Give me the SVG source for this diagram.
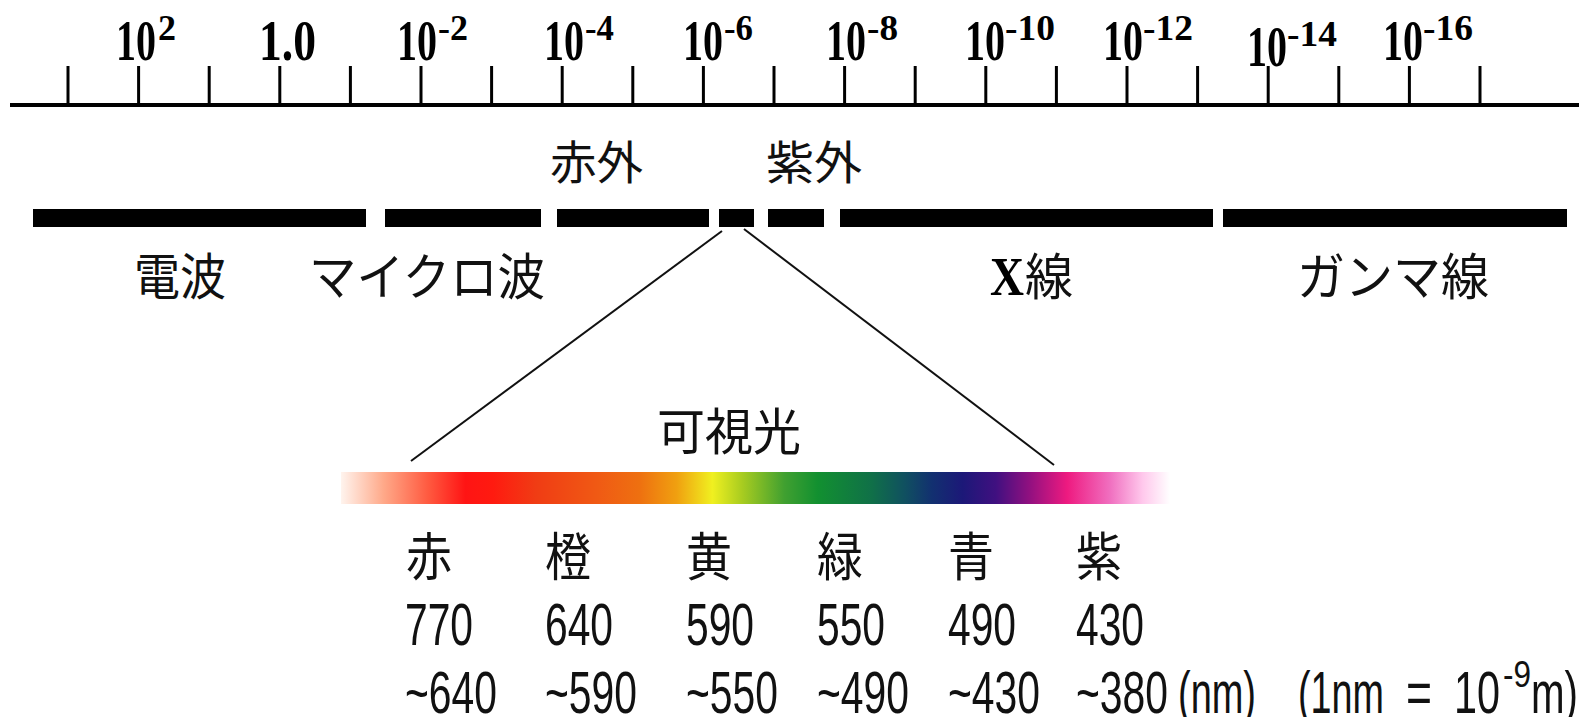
<svg xmlns="http://www.w3.org/2000/svg" width="1581" height="717" viewBox="0 0 1581 717">
<style>
.ax{font-family:"Liberation Serif","Times New Roman",serif;fill:#000;font-weight:bold}
.jp{font-family:"Noto Sans CJK JP","Noto Sans CJK SC",sans-serif;fill:#111}
.num{font-family:"Liberation Sans",Arial,sans-serif;fill:#111}
.tick{stroke:#000;stroke-width:3}
.bar{fill:#000}
.conn{stroke:#111;stroke-width:2;fill:none}
</style>
<defs>
<linearGradient id="spec" x1="0" y1="0" x2="1" y2="0">
<stop offset="0" stop-color="#fff4ee"/>
<stop offset="0.052" stop-color="#ffa888"/>
<stop offset="0.105" stop-color="#ff5a40"/>
<stop offset="0.15" stop-color="#ff1414"/>
<stop offset="0.183" stop-color="#ff1a10"/>
<stop offset="0.235" stop-color="#f03c14"/>
<stop offset="0.31" stop-color="#f05a14"/>
<stop offset="0.36" stop-color="#ee7010"/>
<stop offset="0.405" stop-color="#f0a010"/>
<stop offset="0.448" stop-color="#f0f020"/>
<stop offset="0.484" stop-color="#a8cc20"/>
<stop offset="0.535" stop-color="#40a030"/>
<stop offset="0.575" stop-color="#129030"/>
<stop offset="0.64" stop-color="#107048"/>
<stop offset="0.68" stop-color="#105060"/>
<stop offset="0.713" stop-color="#123070"/>
<stop offset="0.75" stop-color="#1c1878"/>
<stop offset="0.79" stop-color="#401080"/>
<stop offset="0.83" stop-color="#901080"/>
<stop offset="0.876" stop-color="#ee1a80"/>
<stop offset="0.928" stop-color="#f070c0"/>
<stop offset="0.967" stop-color="#ffc8ec"/>
<stop offset="1" stop-color="#ffffff"/>
</linearGradient>
</defs>
<rect width="1581" height="717" fill="#fff"/>

<g id="axis">
<rect x="10" y="103" width="1569" height="4" fill="#000"/>
<g class="tick">
<line x1="68" y1="66" x2="68" y2="104"/>
<line x1="138.6" y1="66" x2="138.6" y2="104"/>
<line x1="209.2" y1="66" x2="209.2" y2="104"/>
<line x1="279.8" y1="66" x2="279.8" y2="104"/>
<line x1="350.4" y1="66" x2="350.4" y2="104"/>
<line x1="421" y1="66" x2="421" y2="104"/>
<line x1="491.6" y1="66" x2="491.6" y2="104"/>
<line x1="562.2" y1="66" x2="562.2" y2="104"/>
<line x1="632.8" y1="66" x2="632.8" y2="104"/>
<line x1="703.4" y1="66" x2="703.4" y2="104"/>
<line x1="774" y1="66" x2="774" y2="104"/>
<line x1="844.6" y1="66" x2="844.6" y2="104"/>
<line x1="915.2" y1="66" x2="915.2" y2="104"/>
<line x1="985.8" y1="66" x2="985.8" y2="104"/>
<line x1="1056.4" y1="66" x2="1056.4" y2="104"/>
<line x1="1127" y1="66" x2="1127" y2="104"/>
<line x1="1197.6" y1="66" x2="1197.6" y2="104"/>
<line x1="1268.2" y1="66" x2="1268.2" y2="104"/>
<line x1="1338.8" y1="66" x2="1338.8" y2="104"/>
<line x1="1409.4" y1="66" x2="1409.4" y2="104"/>
<line x1="1480" y1="66" x2="1480" y2="104"/>
</g>
<g class="ax">
<text x="116" y="60" font-size="58" textLength="40" lengthAdjust="spacingAndGlyphs">10</text>
<text x="158" y="40" font-size="36" textLength="18" lengthAdjust="spacingAndGlyphs">2</text>
<text x="259" y="60" font-size="58" textLength="57" lengthAdjust="spacingAndGlyphs">1.0</text>
<text x="397" y="60" font-size="58" textLength="40" lengthAdjust="spacingAndGlyphs">10</text>
<text x="438" y="40" font-size="36" textLength="30" lengthAdjust="spacingAndGlyphs">-2</text>
<text x="544" y="60" font-size="58" textLength="40" lengthAdjust="spacingAndGlyphs">10</text>
<text x="585" y="40" font-size="36" textLength="29" lengthAdjust="spacingAndGlyphs">-4</text>
<text x="683" y="60" font-size="58" textLength="40" lengthAdjust="spacingAndGlyphs">10</text>
<text x="724" y="40" font-size="36" textLength="29" lengthAdjust="spacingAndGlyphs">-6</text>
<text x="826" y="60" font-size="58" textLength="40" lengthAdjust="spacingAndGlyphs">10</text>
<text x="867" y="40" font-size="36" textLength="31" lengthAdjust="spacingAndGlyphs">-8</text>
<text x="965" y="60" font-size="58" textLength="40" lengthAdjust="spacingAndGlyphs">10</text>
<text x="1005" y="40" font-size="36" textLength="50" lengthAdjust="spacingAndGlyphs">-10</text>
<text x="1103" y="60" font-size="58" textLength="40" lengthAdjust="spacingAndGlyphs">10</text>
<text x="1143" y="40" font-size="36" textLength="50" lengthAdjust="spacingAndGlyphs">-12</text>
<text x="1247" y="66" font-size="58" textLength="40" lengthAdjust="spacingAndGlyphs">10</text>
<text x="1287" y="46" font-size="36" textLength="50" lengthAdjust="spacingAndGlyphs">-14</text>
<text x="1383" y="60" font-size="58" textLength="40" lengthAdjust="spacingAndGlyphs">10</text>
<text x="1423" y="40" font-size="36" textLength="50" lengthAdjust="spacingAndGlyphs">-16</text>
</g>
</g>

<g id="band-radio">
<rect class="bar" x="33" y="209" width="333" height="18"/>
<text class="jp" x="134" y="295" font-size="50" textLength="92" lengthAdjust="spacingAndGlyphs">電波</text>
</g>
<g id="band-microwave">
<rect class="bar" x="385" y="209" width="156" height="18"/>
<text class="jp" x="309" y="295" font-size="50" textLength="236" lengthAdjust="spacingAndGlyphs">マイクロ波</text>
</g>
<g id="band-infrared">
<rect class="bar" x="557" y="209" width="152" height="18"/>
<text class="jp" x="550" y="179" font-size="46" textLength="93" lengthAdjust="spacingAndGlyphs">赤外</text>
</g>
<g id="band-visible">
<rect class="bar" x="719" y="209" width="35" height="18"/>
</g>
<g id="band-ultraviolet">
<rect class="bar" x="768" y="209" width="56" height="18"/>
<text class="jp" x="766" y="179" font-size="46" textLength="96" lengthAdjust="spacingAndGlyphs">紫外</text>
</g>
<g id="band-xray">
<rect class="bar" x="840" y="209" width="373" height="18"/>
<text class="ax" x="990" y="295" font-size="54" textLength="34" lengthAdjust="spacingAndGlyphs">X</text>
<text class="jp" x="1025" y="295" font-size="50" textLength="48" lengthAdjust="spacingAndGlyphs">線</text>
</g>
<g id="band-gamma">
<rect class="bar" x="1223" y="209" width="344" height="18"/>
<text class="jp" x="1297" y="295" font-size="50" textLength="192" lengthAdjust="spacingAndGlyphs">ガンマ線</text>
</g>

<g id="connectors">
<line class="conn" x1="722" y1="231" x2="411" y2="461"/>
<line class="conn" x1="744" y1="229" x2="1054" y2="465"/>
</g>

<g id="visible-spectrum">
<text class="jp" x="657" y="450" font-size="50" textLength="144" lengthAdjust="spacingAndGlyphs">可視光</text>
<rect x="341" y="472" width="829" height="32" fill="url(#spec)"/>
</g>

<g id="colors">
<g class="jp" font-size="52">
<text x="406" y="576" textLength="46" lengthAdjust="spacingAndGlyphs">赤</text>
<text x="545" y="576" textLength="46" lengthAdjust="spacingAndGlyphs">橙</text>
<text x="686" y="576" textLength="46" lengthAdjust="spacingAndGlyphs">黄</text>
<text x="817" y="576" textLength="46" lengthAdjust="spacingAndGlyphs">緑</text>
<text x="948" y="576" textLength="46" lengthAdjust="spacingAndGlyphs">青</text>
<text x="1076" y="576" textLength="46" lengthAdjust="spacingAndGlyphs">紫</text>
</g>
<g class="num" font-size="60">
<text x="405" y="645" textLength="68" lengthAdjust="spacingAndGlyphs">770</text>
<text x="545" y="645" textLength="68" lengthAdjust="spacingAndGlyphs">640</text>
<text x="686" y="645" textLength="68" lengthAdjust="spacingAndGlyphs">590</text>
<text x="817" y="645" textLength="68" lengthAdjust="spacingAndGlyphs">550</text>
<text x="948" y="645" textLength="68" lengthAdjust="spacingAndGlyphs">490</text>
<text x="1076" y="645" textLength="68" lengthAdjust="spacingAndGlyphs">430</text>
<text x="405" y="713" textLength="92" lengthAdjust="spacingAndGlyphs">~640</text>
<text x="545" y="713" textLength="92" lengthAdjust="spacingAndGlyphs">~590</text>
<text x="686" y="713" textLength="92" lengthAdjust="spacingAndGlyphs">~550</text>
<text x="817" y="713" textLength="92" lengthAdjust="spacingAndGlyphs">~490</text>
<text x="948" y="713" textLength="92" lengthAdjust="spacingAndGlyphs">~430</text>
<text x="1076" y="713" textLength="92" lengthAdjust="spacingAndGlyphs">~380</text>
<text x="1178" y="713" textLength="78" lengthAdjust="spacingAndGlyphs">(nm)</text>
<text x="1298" y="713" textLength="86" lengthAdjust="spacingAndGlyphs">(1nm</text>
<text x="1406" y="713" textLength="26" lengthAdjust="spacingAndGlyphs">=</text>
<text x="1454" y="713" textLength="46" lengthAdjust="spacingAndGlyphs">10</text>
<text x="1503" y="687" font-size="36" textLength="28" lengthAdjust="spacingAndGlyphs">-9</text>
<text x="1531" y="713" textLength="47" lengthAdjust="spacingAndGlyphs">m)</text>
</g>
</g>
</svg>
